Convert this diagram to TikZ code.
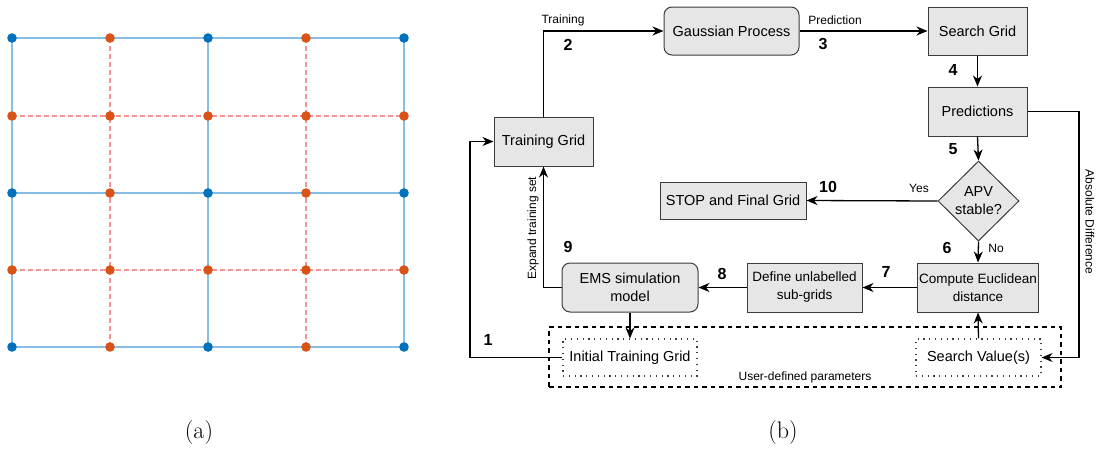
\documentclass[tikz,border=0pt]{standalone}
\usepackage{fontspec}
\newfontfamily\flowfont{Liberation Sans}
\usetikzlibrary{shapes.geometric,arrows.meta}
\definecolor{gridblue}{RGB}{0,114,189}
\definecolor{gridorange}{RGB}{217,83,25}
\definecolor{lineblue}{RGB}{135,190,230}
\definecolor{linered}{RGB}{250,145,145}
\definecolor{boxfill}{RGB}{230,230,230}
\definecolor{boxline}{RGB}{60,60,60}

\begin{document}
\begin{tikzpicture}[x=1pt,y=-1pt,
box/.style={draw=boxline, fill=boxfill, line width=1pt, minimum width=99pt, minimum height=49pt, inner sep=2pt, align=center, font=\flowfont\fontsize{14.5}{18}\selectfont},
rbox/.style={box, rounded corners=8pt},
smalltext/.style={font=\flowfont\fontsize{13.5}{18}\selectfont},
decision/.style={diamond, aspect=1, draw=boxline, fill=boxfill, line width=1pt, minimum width=81pt, minimum height=80pt, inner sep=0pt, align=center, font=\flowfont\fontsize{14.5}{18}\selectfont},
param/.style={draw=boxline, line width=1.1pt, dash pattern=on 1.2pt off 4.6pt, minimum height=37pt, inner sep=2pt, font=\flowfont\fontsize{14.5}{18}\selectfont},
userbox/.style={draw=black, line width=1.1pt, dash pattern=on 4.5pt off 4pt, minimum width=512pt, minimum height=60pt},
lbl/.style={font=\flowfont\fontsize{12}{14}\selectfont},
num/.style={font=\flowfont\bfseries\fontsize{16}{18}\selectfont},
arr/.style={line width=1.3pt, -{Stealth[length=11pt,width=9pt,inset=3.5pt]}},
subcap/.style={font=\fontsize{24}{28}\selectfont}
]
\useasboundingbox (0,0) rectangle (1102,448);

% (a) grid
\foreach \r in {38,193,347} \draw[lineblue, line width=1.2pt] (12,\r) -- (404,\r);
\foreach \c in {12,208,404} \draw[lineblue, line width=1.2pt] (\c,38) -- (\c,347);
\foreach \r in {116,270} \draw[linered, line width=1.2pt, dash pattern=on 5pt off 3pt] (12,\r) -- (404,\r);
\foreach \c in {110,306} \draw[linered, line width=1.2pt, dash pattern=on 5pt off 3pt] (\c,38) -- (\c,347);
\foreach \c [count=\i] in {12,110,208,306,404}
  \foreach \r [count=\j] in {38,116,193,270,347}{
    \pgfmathtruncatemacro\k{mod(\i,2)*mod(\j,2)}
    \ifnum\k=1 \def\dotcol{gridblue}\else\def\dotcol{gridorange}\fi
    \fill[\dotcol] (\c,\r) circle (4.8pt);
  }
\node[subcap] (capa) at (199,433) {(a)};

% (b) flowchart
\node[box] (tgrid) at (543.5,141.5) {Training Grid};
\node[rbox, minimum width=135pt, minimum height=48pt] (gp) at (731.5,31) {Gaussian Process};
\node[box, minimum height=48pt] (sgrid) at (977.5,31) {Search Grid};
\node[box] (pred) at (977.5,111.5) {Predictions};
\node[decision] (apv) at (978.5,201) {APV\\stable?};
\node[box, minimum width=146pt, minimum height=37pt] (stop) at (733,200.5) {STOP and Final Grid};
\node[box, smalltext, minimum width=120pt] (euclid) at (978,287.5) {Compute Euclidean\\distance};
\node[box, smalltext, minimum width=115pt] (subgrid) at (804.5,287.5) {Define unlabelled\\sub-grids};
\node[rbox, minimum width=136pt] (ems) at (630,287.5) {EMS simulation\\model};

\node[userbox] (user) at (805,357) {};
\node[lbl] (userlbl) at (805,377) {User-defined parameters};
\node[param, minimum width=134pt] (itg) at (630,357.5) {Initial Training Grid};
\node[param, minimum width=125pt] (sval) at (978.5,357.5) {Search Value(s)};

\coordinate (loop) at (470,357.5);
\coordinate (absd) at (1079,111.5);

\draw[arr] (tgrid.north) |- (gp.west);
\draw[arr] (gp.east) -- (sgrid.west);
\draw[arr] (sgrid.south) -- (pred.north);
\draw[arr] (pred.south) -- (apv.north);
\draw[arr] (apv.west) -- (stop.east);
\draw[arr] (apv.south) -- (euclid.north);
\draw[arr] (euclid.west) -- (subgrid.east);
\draw[arr] (subgrid.west) -- (ems.east);
\draw[arr] (ems.west) -| (tgrid.south);
\draw[arr] (ems.south) -- (itg.north);
\draw[arr] (itg.west) -- (loop) |- (tgrid.west);
\draw[arr] (pred.east) -- (absd) |- (sval.east);
\draw[arr] (sval.north) -- (euclid.south);

\node[lbl] (trainlbl) at (563,20) {Training};
\node[lbl] (predlbl) at (835,20) {Prediction};
\node[lbl] (yeslbl) at (919,188) {Yes};
\node[lbl] (nolbl) at (996,248) {No};
\node[lbl, rotate=90] (expandlbl) at (533,228) {Expand training set};
\node[lbl, rotate=-90] (abslbl) at (1090,222) {Absolute Difference};

\node[num] (n1) at (488,340) {1};
\node[num] (n2) at (568,45) {2};
\node[num] (n3) at (823,44) {3};
\node[num] (n4) at (953,70) {4};
\node[num] (n5) at (953,149) {5};
\node[num] (n6) at (947,248) {6};
\node[num] (n7) at (886,272) {7};
\node[num] (n8) at (722,274) {8};
\node[num] (n9) at (568,247) {9};
\node[num] (n10) at (828,187) {10};

\node[subcap] (capb) at (783,433) {(b)};
\end{tikzpicture}
\end{document}
